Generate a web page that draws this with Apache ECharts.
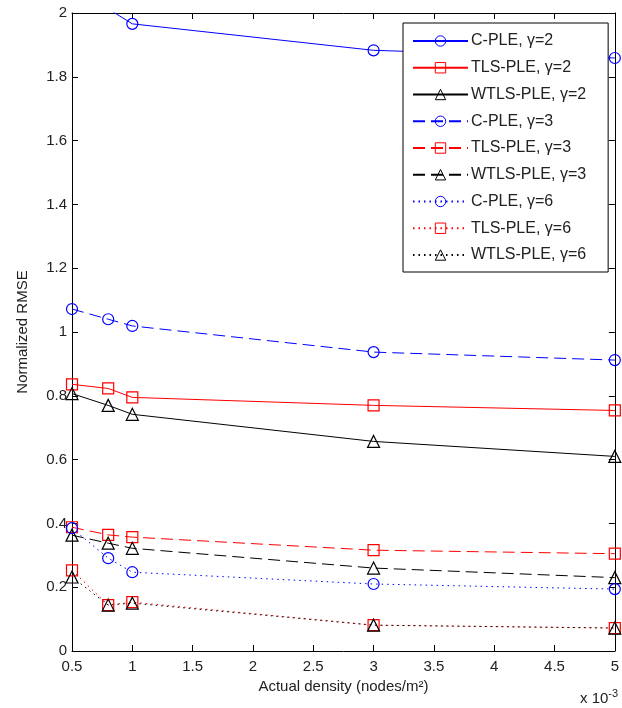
<!DOCTYPE html>
<html>
<head>
<meta charset="utf-8">
<script src="https://cdn.jsdelivr.net/npm/echarts@6/dist/echarts.min.js"></script>
<style>
html,body{margin:0;padding:0;background:#fff;}
#chart{width:622px;height:708px;}
</style>
</head>
<body>
<div id="chart"></div>
<script>
// x values (nodes/m^2, x 10^-3)
const densities = [0.5, 0.8, 1, 3, 5];
const xTicks = [0.5, 1, 1.5, 2, 2.5, 3, 3.5, 4, 4.5, 5];
const yTicks = [0, 0.2, 0.4, 0.6, 0.8, 1, 1.2, 1.4, 1.6, 1.8, 2];

const cPle2    = [2.10, 2.013, 1.966, 1.883, 1.859];
const tlsPle2  = [0.836, 0.823, 0.795, 0.770, 0.754];
const wtlsPle2 = [0.807, 0.770, 0.742, 0.657, 0.610];
const cPle3    = [1.072, 1.040, 1.019, 0.937, 0.912];
const tlsPle3  = [0.388, 0.364, 0.357, 0.316, 0.305];
const wtlsPle3 = [0.363, 0.338, 0.322, 0.260, 0.230];
const cPle6    = [0.385, 0.291, 0.247, 0.210, 0.194];
const tlsPle6  = [0.253, 0.144, 0.153, 0.081, 0.072];
const wtlsPle6 = [0.232, 0.144, 0.150, 0.081, 0.072];

const seriesNames = [
  'C-PLE, γ=2', 'TLS-PLE, γ=2', 'WTLS-PLE, γ=2',
  'C-PLE, γ=3', 'TLS-PLE, γ=3', 'WTLS-PLE, γ=3',
  'C-PLE, γ=6', 'TLS-PLE, γ=6', 'WTLS-PLE, γ=6'
];
const seriesValues = [cPle2, tlsPle2, wtlsPle2, cPle3, tlsPle3, wtlsPle3, cPle6, tlsPle6, wtlsPle6];
const colors = ['#0000ff', '#ff0000', '#000000'];
const symbols = ['circle', 'rect', 'triangle'];
const symbolSizes = [11, 11, 12];
const dashTypes = ['solid', [12, 6], [1.5, 4]];

const FONT = 'Liberation Sans';

const series = seriesValues.map((vals, i) => {
  const kind = i % 3;
  const style = Math.floor(i / 3);
  return {
    name: seriesNames[i],
    type: 'line',
    data: densities.map((x, j) => [x, vals[j]]),
    symbol: symbols[kind],
    symbolSize: symbolSizes[kind],
    showAllSymbol: true,
    clip: true,
    animation: false,
    lineStyle: { color: colors[kind], width: 1, type: dashTypes[style] },
    itemStyle: { color: 'rgba(255,255,255,0)', borderColor: colors[kind], borderWidth: 1.2 },
    emphasis: { disabled: true },
    z: 2
  };
});

const chart = echarts.init(document.getElementById('chart'));
chart.setOption({
  backgroundColor: '#fff',
  animation: false,
  grid: { left: 72, right: 7, top: 13, bottom: 57 },
  legend: {
    orient: 'vertical',
    left: 403,
    top: 23,
    data: seriesNames,
    itemWidth: 55,
    itemHeight: 13,
    itemGap: 10.75,
    padding: [10, 22, 9, 9],
    backgroundColor: '#fff',
    borderColor: '#000',
    borderWidth: 1,
    borderRadius: 0,
    itemStyle: { borderWidth: 1 },
    textStyle: { fontFamily: FONT, fontSize: 16, color: '#222', lineHeight: 16, padding: [0, 0, 0, -2] },
    selectedMode: false,
    z: 10
  },
  xAxis: [
    {
      type: 'value', min: 0.5, max: 5, interval: 0.5,
      name: 'Actual density (nodes/m²)',
      nameLocation: 'middle', nameGap: 27,
      nameTextStyle: { fontFamily: FONT, fontSize: 15, color: '#222' },
      axisLine: { show: true, onZero: false, lineStyle: { color: '#000', width: 1 } },
      axisTick: { show: true, inside: true, length: 6, lineStyle: { color: '#000' } },
      axisLabel: { fontFamily: FONT, fontSize: 15, color: '#222', margin: 8,
        formatter: v => xTicks.includes(+v.toFixed(2)) ? String(+v.toFixed(2)) : '' },
      splitLine: { show: false }
    },
    {
      type: 'value', min: 0.5, max: 5, interval: 0.5, position: 'top',
      axisLine: { show: true, onZero: false, lineStyle: { color: '#000', width: 1 } },
      axisTick: { show: true, inside: true, length: 6, lineStyle: { color: '#000' } },
      axisLabel: { show: false },
      splitLine: { show: false }
    }
  ],
  yAxis: [
    {
      type: 'value', min: 0, max: 2, interval: 0.2,
      name: 'Normalized RMSE',
      nameLocation: 'middle', nameGap: 42,
      nameTextStyle: { fontFamily: FONT, fontSize: 15, color: '#222' },
      axisLine: { show: true, onZero: false, lineStyle: { color: '#000', width: 1 } },
      axisTick: { show: true, inside: true, length: 6, lineStyle: { color: '#000' } },
      axisLabel: { fontFamily: FONT, fontSize: 15, color: '#222', margin: 5,
        formatter: v => yTicks.includes(+v.toFixed(2)) ? String(+v.toFixed(2)) : '' },
      splitLine: { show: false }
    },
    {
      type: 'value', min: 0, max: 2, interval: 0.2, position: 'right',
      axisLine: { show: true, onZero: false, lineStyle: { color: '#000', width: 1 } },
      axisTick: { show: true, inside: true, length: 6, lineStyle: { color: '#000' } },
      axisLabel: { show: false },
      splitLine: { show: false }
    }
  ],
  graphic: [
    {
      type: 'text', left: 580, top: 688,
      style: {
        text: 'x 10{sup|-3}',
        fontFamily: FONT, fontSize: 15, fill: '#222',
        rich: { sup: { fontFamily: FONT, fontSize: 11, fill: '#222', verticalAlign: 'top', padding: [0, 0, 10, 0] } }
      }
    }
  ],
  series: series
});
</script>
</body>
</html>
